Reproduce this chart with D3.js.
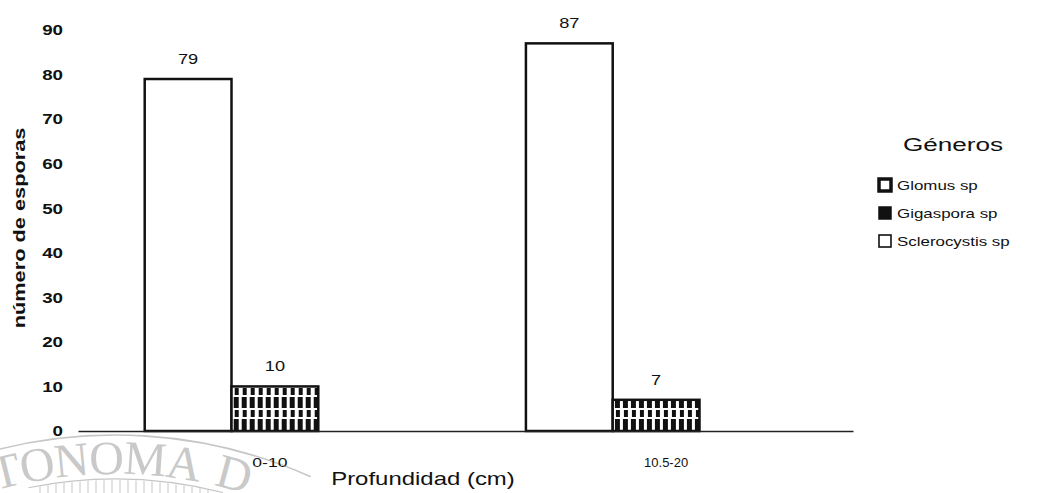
<!DOCTYPE html>
<html><head><meta charset="utf-8">
<script src="https://cdn.jsdelivr.net/npm/d3@7"></script>
<style>body{margin:0;background:#fff}svg{display:block}text{font-family:"Liberation Sans",Arial,sans-serif}text.wm{font-family:"Liberation Serif","DejaVu Serif",serif}</style>
</head><body><svg id="c" width="1040" height="493"></svg>
<script>
const categories = ["0-10", "10.5-20"];
const seriesNames = ["Glomus sp", "Gigaspora sp", "Sclerocystis sp"];
const glomus = [79, 87];
const gigaspora = [10, 7];
const sclerocystis = [0, 0];
const yTicks = [0, 10, 20, 30, 40, 50, 60, 70, 80, 90];

const values = [glomus, gigaspora, sclerocystis];
const svg = d3.select("#c");

function stretch(sel, k) {
  sel.each(function () {
    const L = this.getComputedTextLength();
    d3.select(this).attr("textLength", L * k).attr("lengthAdjust", "spacingAndGlyphs");
  });
}

// watermark (seal arc)
const cx = 115, cy = 915;
function arc(r, a0, a1) { const p = d3.path(); p.arc(cx, cy, r, -Math.PI / 2 + a0, -Math.PI / 2 + a1); return p.toString(); }
const wm = svg.append("g").attr("fill", "none").attr("stroke", "#c6c6c6");
wm.append("path").attr("d", arc(480, -0.3, 0.42)).attr("stroke-width", 1.6);
wm.append("path").attr("d", arc(436, -0.2, 0.25)).attr("stroke-width", 1.1);
d3.range(40, 212, 8).forEach(x => {
  const y0 = cy - Math.sqrt(436 * 436 - (x - cx) * (x - cx));
  wm.append("line").attr("x1", x).attr("x2", x).attr("y1", y0 + 1).attr("y2", 493).attr("stroke-width", 1);
});
// watermark letters placed one by one along the arc
const wmg = svg.append("g").attr("fill", "#c9c9c9");
const Rt = 441, wmSize = 48;
function arcLetters(str, a0, gap) {
  let s = 0;
  str.split("").forEach(ch => {
    const t = wmg.append("text").attr("class", "wm").style("font-size", wmSize + "px").attr("text-anchor", "middle").text(ch);
    const w = t.node().getComputedTextLength();
    const th = a0 + (s + w / 2) / Rt;
    const px = cx + Rt * Math.sin(th), py = cy - Rt * Math.cos(th);
    t.attr("transform", `translate(${px},${py}) rotate(${th * 180 / Math.PI})`);
    s += w + gap;
  });
}
arcLetters("TONOMA", -0.275, -1);
arcLetters("D", 0.225, 0);

// pattern for Gigaspora
const defs = svg.append("defs");
const pat = defs.append("pattern").attr("id", "giga").attr("patternUnits", "userSpaceOnUse")
  .attr("width", 8).attr("height", 22).attr("x", 0).attr("y", 0);
pat.append("rect").attr("width", 8).attr("height", 22).attr("fill", "#fff");
pat.append("rect").attr("x", 1).attr("y", 1).attr("width", 5).attr("height", 11).attr("fill", "#111");
pat.append("rect").attr("x", 2).attr("y", 14).attr("width", 4).attr("height", 7).attr("fill", "#111");

const fills = ["#fff", "url(#giga)", "#fff"];

const x = d3.scaleBand().domain(categories).range([78, 853]).paddingInner(0.317).paddingOuter(0.175);
const xs = d3.scaleBand().domain(seriesNames).range([0, x.bandwidth()]);
const y = d3.scaleLinear().domain([0, 90]).range([431, 30]);

// y tick labels
const yAxis = d3.axisLeft(y).tickValues(yTicks).tickSize(0).tickPadding(0);
const gy = svg.append("g").attr("transform", "translate(63,0)").call(yAxis);
gy.select(".domain").remove();
gy.selectAll("text").style("font-size", "15px").style("font-weight", "bold").attr("fill", "#111");
stretch(gy.selectAll("text"), 1.25);

// bars
const rows = (c, ci) => seriesNames.map((s, si) => ({ s, si, v: values[si][ci] })).filter(d => d.v > 0);
const groups = svg.append("g").selectAll("g").data(categories).join("g")
  .attr("transform", d => `translate(${x(d)},0)`);
groups.selectAll("rect").data(rows).join("rect")
  .attr("x", d => xs(d.s)).attr("width", xs.bandwidth())
  .attr("y", d => y(d.v)).attr("height", d => y(0) - y(d.v))
  .attr("fill", d => fills[d.si]).attr("stroke", "#111").attr("stroke-width", 2.5);
const vals = groups.selectAll("text.val").data(rows).join("text").attr("class", "val")
  .attr("x", d => xs(d.s) + xs.bandwidth() / 2).attr("y", d => y(d.v) - 15)
  .attr("text-anchor", "middle").style("font-size", "14px").attr("fill", "#111").text(d => d.v);
stretch(vals, 1.3);

// x axis
const xAxis = d3.axisBottom(x).tickSize(0).tickPadding(27);
const gx = svg.append("g").attr("transform", `translate(0,${y(0)})`).call(xAxis);
gx.select(".domain").attr("stroke", "#222").attr("stroke-width", 1.5);
gx.selectAll("text").style("font-size", "13px").attr("fill", "#111")
  .attr("dx", (d, i) => i === 0 ? -5 : 10);
stretch(gx.selectAll("text").filter((d, i) => i === 0), 1.35);

// axis titles
const yt = svg.append("text").attr("transform", "translate(25,228) rotate(-90)").attr("text-anchor", "middle")
  .style("font-size", "16px").style("font-weight", "bold").attr("fill", "#111").text("número de esporas");
stretch(yt, 1.36);
const xt = svg.append("text").attr("x", 423).attr("y", 485).attr("text-anchor", "middle")
  .style("font-size", "19px").attr("fill", "#111").text("Profundidad (cm)");
stretch(xt, 1.26);

// legend
const lg = svg.append("g");
const lt = lg.append("text").attr("x", 953).attr("y", 151).attr("text-anchor", "middle").style("font-size", "18px").attr("fill", "#111").text("Géneros");
stretch(lt, 1.45);
const rowY = [185, 213, 241];
const swStroke = [3.5, 1.5, 1.6];
const li = lg.selectAll("g").data(seriesNames).join("g").attr("transform", (d, i) => `translate(879,${rowY[i]})`);
li.append("rect").attr("x", 0).attr("y", -6).attr("width", 12).attr("height", 12)
  .attr("fill", (d, i) => i === 1 ? "#111" : "#fff").attr("stroke", "#111").attr("stroke-width", (d, i) => swStroke[i]);
const ltx = li.append("text").attr("x", 18).attr("y", 5).style("font-size", "13px").attr("fill", "#111").text(d => d);
stretch(ltx, 1.3);
</script></body></html>
